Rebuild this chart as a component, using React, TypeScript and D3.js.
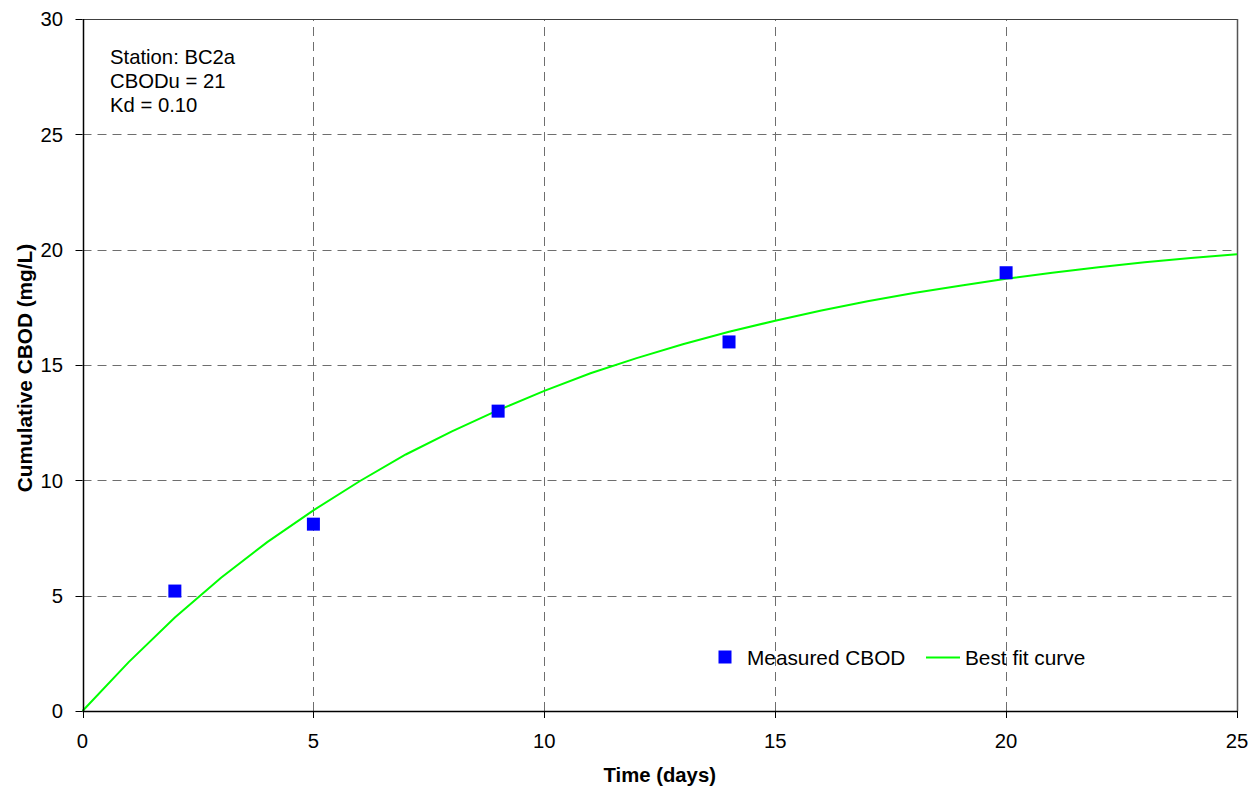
import React from "react";
import * as d3 from "d3";

const measuredDays = [2, 5, 9, 14, 20];
const measuredCBOD = [5.2, 8.1, 13, 16, 19];

const fitDays = [0, 1, 2, 3, 4, 5, 6, 7, 8, 9, 10, 11, 12, 13, 14, 15, 16, 17, 18, 19, 20, 21, 22, 23, 24, 25];
const fitCBOD = [0, 2.12, 4.05, 5.78, 7.32, 8.7, 9.96, 11.12, 12.12, 13.04, 13.88, 14.64, 15.3, 15.9, 16.44, 16.92, 17.36, 17.76, 18.12, 18.44, 18.74, 19.0, 19.24, 19.45, 19.64, 19.8];

const xTicks = [0, 5, 10, 15, 20, 25];
const yTicks = [0, 5, 10, 15, 20, 25, 30];
const annotations = ["Station: BC2a", "CBODu = 21", "Kd = 0.10"];
const legendLabels = ["Measured CBOD", "Best fit curve"];

const W = 1258;
const H = 792;
const M = { left: 82.5, top: 19, right: 21, bottom: 81 };
const FONT = "Arial, 'Liberation Sans', sans-serif";
const FS = 20.3;

export default function App() {
  const x = d3.scaleLinear().domain([0, 25]).range([M.left, W - M.right]);
  const y = d3.scaleLinear().domain([0, 30]).range([H - M.bottom, M.top]);
  const line = d3
    .line<number>()
    .x((_, i) => x(fitDays[i]))
    .y((d) => y(d));
  const x0 = x(0), x1 = x(25), y0 = y(0), y1 = y(30);
  return (
    <div style={{ position: "absolute", left: 0, top: 0 }}>
      <svg width={W} height={H} style={{ display: "block", background: "#fff" }} fontFamily={FONT}>
        {/* grid */}
        {yTicks.filter((t) => t > 0 && t < 30).map((t) => (
          <line key={"gy" + t} x1={x0} x2={x1} y1={Math.round(y(t)) + 0.5} y2={Math.round(y(t)) + 0.5} stroke="#6e6e6e" strokeWidth={1} strokeDasharray="9,6" />
        ))}
        {xTicks.filter((t) => t > 0 && t < 25).map((t) => (
          <line key={"gx" + t} y1={y0} y2={y1} x1={Math.round(x(t)) + 0.5} x2={Math.round(x(t)) + 0.5} stroke="#6e6e6e" strokeWidth={1} strokeDasharray="9,6" />
        ))}
        {/* border top/right */}
        <line x1={x0} x2={x1} y1={Math.round(y1) + 0.5} y2={Math.round(y1) + 0.5} stroke="#404040" strokeWidth={1} />
        <line x1={Math.round(x1) + 0.5} x2={Math.round(x1) + 0.5} y1={y1} y2={y0} stroke="#555" strokeWidth={1.5} />
        {/* fit curve */}
        <path d={line(fitCBOD) || ""} fill="none" stroke="#00ff00" strokeWidth={2} />
        {/* markers */}
        {measuredCBOD.map((v, i) => (
          <rect key={"m" + i} x={x(measuredDays[i]) - 6.5} y={y(v) - 6.5} width={13} height={13} fill="#0000ff" />
        ))}
        {/* axes */}
        <line x1={Math.round(x0) + 0.5} x2={Math.round(x0) + 0.5} y1={y1} y2={y0 + 0.5} stroke="#000" strokeWidth={1.5} />
        <line x1={x0} x2={x1} y1={Math.round(y0) + 0.5} y2={Math.round(y0) + 0.5} stroke="#000" strokeWidth={1.5} />
        {yTicks.map((t) => (
          <g key={"ty" + t}>
            <line x1={x0 - 7} x2={x0} y1={Math.round(y(t)) + 0.5} y2={Math.round(y(t)) + 0.5} stroke="#000" strokeWidth={1} />
            <text x={63} y={y(t)} dy="0.36em" textAnchor="end" fontSize={FS} fill="#000">{t}</text>
          </g>
        ))}
        {xTicks.map((t) => (
          <g key={"tx" + t}>
            <line x1={Math.round(x(t)) + 0.5} x2={Math.round(x(t)) + 0.5} y1={y0} y2={y0 + 7} stroke="#000" strokeWidth={1} />
            <text x={x(t)} y={748} textAnchor="middle" fontSize={FS} fill="#000">{t}</text>
          </g>
        ))}
        {/* axis titles */}
        <text x={(x0 + x1) / 2} y={782} textAnchor="middle" fontSize={FS} fontWeight="bold" fill="#000">Time (days)</text>
        <text transform={`translate(32, ${(y0 + y1) / 2 + 3}) rotate(-90)`} textAnchor="middle" fontSize={20.8} fontWeight="bold" fill="#000">Cumulative CBOD (mg/L)</text>
        {/* annotation */}
        {annotations.map((a, i) => (
          <text key={"a" + i} x={110} y={63.5 + i * 24} fontSize={FS} fill="#000">{a}</text>
        ))}
        {/* legend */}
        <rect x={718.5} y={650.5} width={13} height={13} fill="#0000ff" />
        <text x={747} y={664.5} fontSize={20.8} fill="#000">{legendLabels[0]}</text>
        <line x1={926} x2={960} y1={657.5} y2={657.5} stroke="#00ff00" strokeWidth={2} />
        <text x={965} y={664.5} fontSize={20.8} fill="#000">{legendLabels[1]}</text>
      </svg>
    </div>
  );
}
